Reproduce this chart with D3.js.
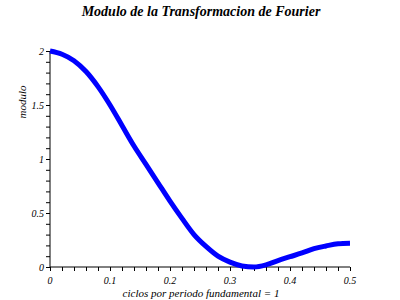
<!DOCTYPE html>
<html lang="es">
<head>
  <meta charset="UTF-8">
  <title>Modulo de la Transformacion de Fourier</title>
  <script src="https://d3js.org/d3.v7.min.js"></script>
  <style>
    body { margin: 0; background: #fff; }
    svg text { font-family: "Liberation Serif", "DejaVu Serif", serif; font-style: italic; fill: #000; }
  </style>
</head>
<body>
  <svg width="400" height="300"></svg>
  <script>
    // frequency (ciclos por periodo) and modulus
    const freq = [0, 0.02, 0.04, 0.06, 0.08, 0.10, 0.12, 0.14, 0.16, 0.18, 0.20, 0.22, 0.24,
                  0.26, 0.28, 0.30, 0.32, 0.34, 0.36, 0.38, 0.40, 0.42, 0.44, 0.46, 0.48, 0.50];
    const modulo = [2.0, 1.97, 1.91, 1.81, 1.67, 1.50, 1.31, 1.12, 0.95, 0.78, 0.61, 0.45, 0.30,
                    0.19, 0.10, 0.045, 0.01, 0.0, 0.02, 0.06, 0.095, 0.13, 0.17, 0.195, 0.215, 0.22];
    const xTicks = [0, 0.1, 0.2, 0.3, 0.4, 0.5];
    const yTicks = [0, 0.5, 1, 1.5, 2];

    const svg = d3.select("svg");
    const x = d3.scaleLinear().domain([0, 0.5]).range([50, 350]);
    const y = d3.scaleLinear().domain([0, 2]).range([267, 51]);

    // title
    svg.append("text")
        .attr("x", 201).attr("y", 16)
        .attr("text-anchor", "middle")
        .style("font-size", "14px")
        .style("font-weight", "bold")
        .text("Modulo de la Transformacion de Fourier");

    // x axis
    const xAxis = svg.append("g").attr("transform", "translate(0,267)");
    xAxis.call(d3.axisBottom(x).tickValues(d3.range(0, 0.501, 0.02)).tickSize(4).tickFormat(""));
    xAxis.selectAll("text").remove();
    xAxis.append("g").selectAll("text")
        .data(xTicks)
        .enter().append("text")
        .attr("x", d => x(d))
        .attr("y", 17)
        .attr("text-anchor", "middle")
        .style("font-size", "10px")
        .text(d => d === 0 ? "0" : d3.format(".1f")(d));

    // y axis
    const yAxis = svg.append("g").attr("transform", "translate(50,0)");
    yAxis.call(d3.axisLeft(y).tickValues(d3.range(0, 2.001, 0.1)).tickSize(4).tickFormat(""));
    yAxis.append("g").selectAll("text")
        .data(yTicks)
        .enter().append("text")
        .attr("x", -6)
        .attr("y", d => y(d) + 4)
        .attr("text-anchor", "end")
        .style("font-size", "10px")
        .text(d => d);

    svg.selectAll(".domain").attr("stroke", "#000").attr("d", null);
    svg.selectAll(".tick line").attr("stroke", "#000");
    // plain axis lines (no end caps)
    svg.append("line").attr("x1", x(0)).attr("x2", x(0.5)).attr("y1", y(0)).attr("y2", y(0)).attr("stroke", "#000");
    svg.append("line").attr("x1", x(0)).attr("x2", x(0)).attr("y1", y(0)).attr("y2", y(2)).attr("stroke", "#000");

    // axis titles
    svg.append("text")
        .attr("transform", "translate(26,102) rotate(-90)")
        .attr("text-anchor", "middle")
        .style("font-size", "11px")
        .text("modulo");

    svg.append("text")
        .attr("x", 201).attr("y", 297)
        .attr("text-anchor", "middle")
        .style("font-size", "11px")
        .text("ciclos por periodo fundamental = 1");

    // curve
    const line = d3.line()
        .x((d, i) => x(freq[i]))
        .y(d => y(d))
        .curve(d3.curveMonotoneX);

    svg.append("path")
        .datum(modulo)
        .attr("fill", "none")
        .attr("stroke", "#0000ff")
        .attr("stroke-width", 5)
        .attr("stroke-linecap", "butt")
        .attr("d", line);
  </script>
</body>
</html>
